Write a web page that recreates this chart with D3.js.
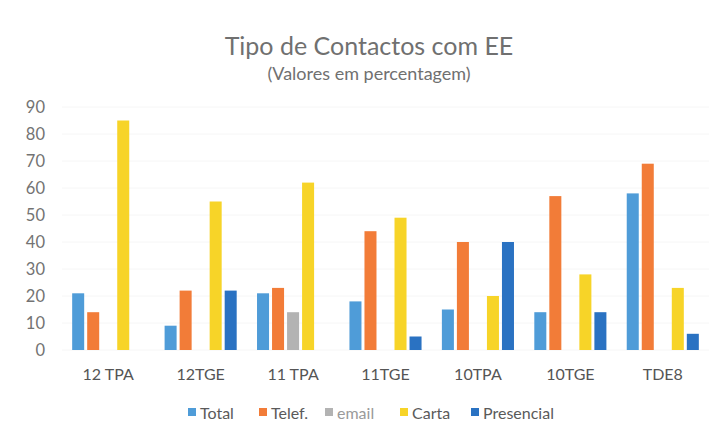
<!DOCTYPE html>
<html><head><meta charset="utf-8">
<script src="https://cdn.jsdelivr.net/npm/d3@7"></script>
<style>body{margin:0;background:#fff}svg{display:block}</style>
</head><body>
<svg id="c" width="716" height="435"></svg>
<script>
const categories = ["12 TPA","12TGE","11 TPA","11TGE","10TPA","10TGE","TDE8"];
const seriesNames = ["Total","Telef.","email","Carta","Presencial"];
const total      = [21, 9, 21, 18, 15, 14, 58];
const telef      = [14, 22, 23, 44, 40, 57, 69];
const email      = [0, 0, 14, 0, 0, 0, 0];
const carta      = [85, 55, 62, 49, 20, 28, 23];
const presencial = [0, 22, 0, 5, 40, 14, 6];
const yTicks = [0,10,20,30,40,50,60,70,80,90];
const colors = ["#4f9cd8","#f27c38","#b3b3b3","#f7d428","#2a72c2"];

(function () {
const values = [total, telef, email, carta, presencial];
const svg = d3.select("#c");
const font = "Lato, 'Open Sans', sans-serif";
const mLeft = 62, mRight = 709, mTop = 107, mBottom = 350;

const x0 = d3.scaleBand().domain(categories).range([mLeft, mRight]).paddingInner(0.22).paddingOuter(0.11);
const x1 = d3.scaleBand().domain(seriesNames).range([0, x0.bandwidth()]).paddingInner(0.2);
const y = d3.scaleLinear().domain([0, 90]).range([mBottom, mTop]);

svg.append("g").selectAll("line").data(yTicks).join("line")
  .attr("x1", mLeft).attr("x2", mRight)
  .attr("y1", d => y(d)).attr("y2", d => y(d))
  .attr("stroke", "#f6f6f6").attr("stroke-width", 1);

const ya = svg.append("g").attr("transform", `translate(${mLeft},0)`)
  .call(d3.axisLeft(y).tickValues(yTicks).tickSize(0).tickPadding(17));
ya.select(".domain").remove();
ya.selectAll("text").attr("font-family", font).attr("font-size", 16.5).attr("fill", "#737373");

const xa = svg.append("g").attr("transform", `translate(0,${mBottom})`)
  .call(d3.axisBottom(x0).tickSize(0).tickPadding(19));
xa.select(".domain").remove();
xa.selectAll("text").attr("font-family", font).attr("font-size", 16).attr("fill", "#555");

const g = svg.append("g");
categories.forEach((c, i) => {
  seriesNames.forEach((s, j) => {
    const v = values[j][i];
    if (!v) return;
    g.append("rect")
      .attr("x", x0(c) + x1(s)).attr("width", x1.bandwidth())
      .attr("y", y(v)).attr("height", y(0) - y(v))
      .attr("fill", colors[j]);
  });
});

svg.append("text").attr("x", 369).attr("y", 55).attr("text-anchor", "middle")
  .attr("font-family", font).attr("font-size", 25).attr("fill", "#707070")
  .text("Tipo de Contactos com EE");
svg.append("text").attr("x", 369).attr("y", 80).attr("text-anchor", "middle")
  .attr("font-family", font).attr("font-size", 18).attr("fill", "#707070")
  .text("(Valores em percentagem)");

const legX = [188, 259, 325, 400, 471];
const lg = svg.append("g");
seriesNames.forEach((s, j) => {
  lg.append("rect").attr("x", legX[j]).attr("y", 408).attr("width", 8).attr("height", 8).attr("fill", colors[j]);
  lg.append("text").attr("x", legX[j] + 12).attr("y", 418.5)
    .attr("font-family", font).attr("font-size", 16).attr("fill", j === 2 ? "#9a9a9a" : "#5a5a5a")
    .text(s);
});
})();
</script>
</body></html>
